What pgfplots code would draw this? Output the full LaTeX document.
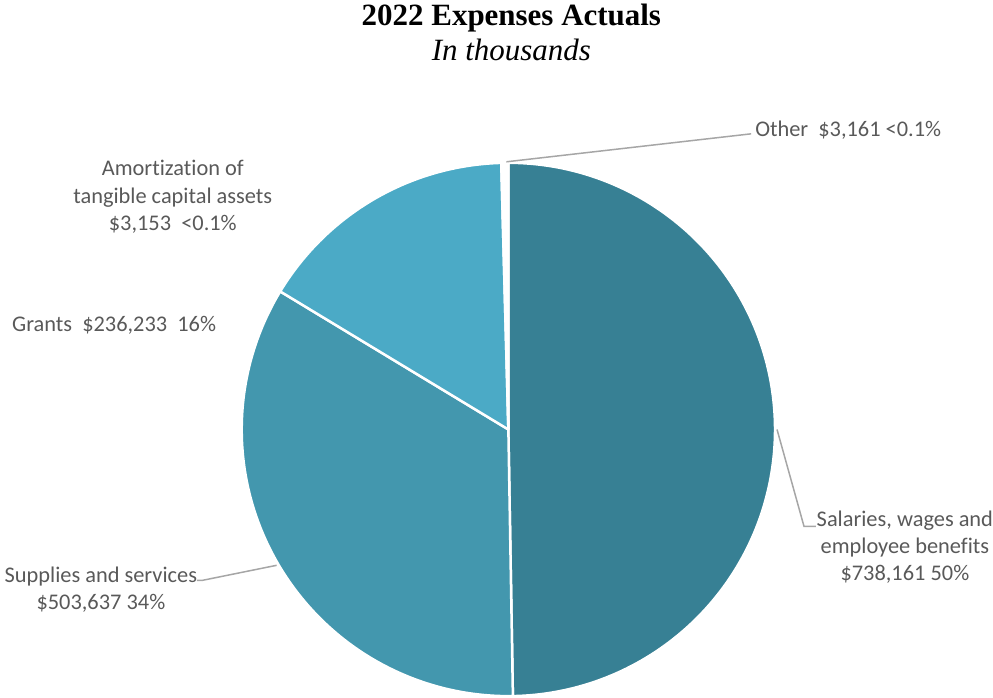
\documentclass[border=0pt]{standalone}
\usepackage{pgfplots}
\pgfplotsset{compat=1.18}
\usepackage{fontspec}
\setmainfont{Carlito}[Ligatures={NoCommon}]
\newfontfamily\titlefont{Liberation Serif}
\definecolor{cS}{HTML}{378094}
\definecolor{cSu}{HTML}{4397AE}
\definecolor{cG}{HTML}{4BAAC6}
\definecolor{lead}{HTML}{A6A6A6}
\definecolor{txt}{HTML}{595959}
% values (in thousands)
\def\vS{738161}\def\vSu{503637}\def\vG{236233}\def\vA{3153}\def\vO{3161}
\edef\tot{\fpeval{\vS+\vSu+\vG+\vA+\vO}}
\edef\aA{\fpeval{360*\vS/\tot}}
\edef\aB{\fpeval{360*(\vS+\vSu)/\tot}}
\edef\aC{\fpeval{360*(\vS+\vSu+\vG)/\tot}}
\edef\aD{\fpeval{360*(\vS+\vSu+\vG+\vA)/\tot}}
\def\cx{509}\def\cy{430}\def\rr{267}
\newcommand\lbl{\fontsize{22.4}{27.2}\selectfont}
\begin{document}
\begin{tikzpicture}
\begin{axis}[x=1pt,y=1pt,xmin=0,xmax=993,ymin=0,ymax=698,y dir=reverse,hide axis,clip=false]
\path (axis cs:0,0) rectangle (axis cs:993,698);
\addplot[fill=cS,draw=white,line width=2.5pt,domain=0:\aA,samples=150,line join=round]
  ({\cx+\rr*sin(x)},{\cy-\rr*cos(x)}) -- (axis cs:\cx,\cy) -- cycle;
\addplot[fill=cSu,draw=white,line width=2.5pt,domain=\aA:\aB,samples=120,line join=round]
  ({\cx+\rr*sin(x)},{\cy-\rr*cos(x)}) -- (axis cs:\cx,\cy) -- cycle;
\addplot[fill=cG,draw=white,line width=2.5pt,domain=\aB:\aC,samples=80,line join=round]
  ({\cx+\rr*sin(x)},{\cy-\rr*cos(x)}) -- (axis cs:\cx,\cy) -- cycle;
\addplot[fill=white,draw=white,line width=2.5pt,domain=\aC:\aD,samples=5]
  ({\cx+\rr*sin(x)},{\cy-\rr*cos(x)}) -- (axis cs:\cx,\cy) -- cycle;
\addplot[fill=white,draw=white,line width=2.5pt,domain=\aD:360,samples=5]
  ({\cx+\rr*sin(x)},{\cy-\rr*cos(x)}) -- (axis cs:\cx,\cy) -- cycle;
% leader lines
\draw[lead,line width=1.5pt] (axis cs:507,162) -- (axis cs:752,134);
\draw[lead,line width=1.5pt] (axis cs:778,430) -- (axis cs:805,527) -- (axis cs:817,527);
\draw[lead,line width=1.5pt] (axis cs:277,566) -- (axis cs:203,581) -- (axis cs:197,581);
% labels
\begin{scope}[every node/.style={font=\lbl,text=txt,inner sep=0pt}]
\node[anchor=west] at (axis cs:756,130) {Other\ \ \$3,161 <0.1\%};
\node[align=center] at (axis cs:906,548) {Salaries, wages and\\employee benefits\\\$738,161 50\%};
\node[align=center] at (axis cs:101,590) {Supplies and services\\\$503,637 34\%};
\node[anchor=west] at (axis cs:12,326) {Grants\ \ \$236,233\ \ 16\%};
\node[align=center] at (axis cs:173,197) {Amortization of\\tangible capital assets\\\$3,153\ \ <0.1\%};
\end{scope}
% title
\node[inner sep=0pt] at (axis cs:512,18) {\titlefont\fontsize{31}{36}\selectfont\bfseries 2022 Expenses Actuals};
\node[inner sep=0pt] at (axis cs:512,50) {\titlefont\fontsize{31}{36}\selectfont\itshape In thousands};
\end{axis}
\end{tikzpicture}
\end{document}
